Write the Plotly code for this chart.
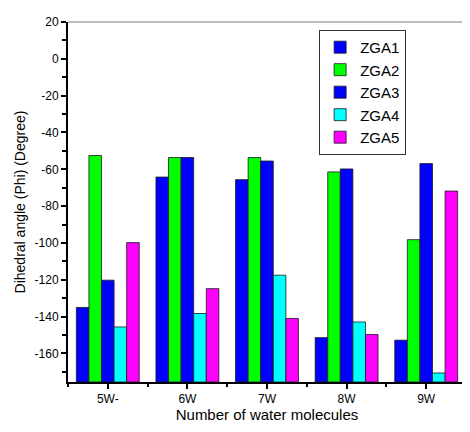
import plotly.graph_objects as go

categories = ["5W-", "6W", "7W", "8W", "9W"]
series_names = ["ZGA1", "ZGA2", "ZGA3", "ZGA4", "ZGA5"]
zga1 = [-135.0, -64.2, -65.6, -151.4, -152.8]
zga2 = [-52.5, -53.6, -53.6, -61.4, -98.2]
zga3 = [-120.2, -53.6, -55.5, -59.8, -56.9]
zga4 = [-145.6, -138.3, -117.5, -142.9, -170.6]
zga5 = [-99.8, -124.8, -141.0, -149.7, -71.8]
colors = ["#0000FF", "#00FF00", "#0000FF", "#00FFFF", "#FF00FF"]
y_tick_vals = [20, 0, -20, -40, -60, -80, -100, -120, -140, -160]
Y_MIN, Y_MAX = -175.5, 20

series = [zga1, zga2, zga3, zga4, zga5]
xpos = list(range(len(categories)))

fig = go.Figure()
for name, vals, col in zip(series_names, series, colors):
    fig.add_trace(go.Bar(
        x=xpos,
        y=[v - Y_MIN for v in vals],
        base=Y_MIN,
        name=name,
        marker=dict(color=col, line=dict(color="#1a1a1a", width=0.8)),
    ))

font = "Arial, Liberation Sans, sans-serif"
fig.update_layout(
    width=462, height=424,
    margin=dict(l=60, r=4, t=14, b=50),
    paper_bgcolor="white", plot_bgcolor="white",
    barmode="group", bargap=0.21, bargroupgap=0,
    font=dict(family=font, color="black", size=12),
    showlegend=True,
    legend=dict(
        x=0.631, y=0.978, xanchor="left", yanchor="top",
        bordercolor="#333333", borderwidth=1, bgcolor="white",
        font=dict(size=15, family=font, color="black"),
        itemwidth=30, tracegroupgap=0,
    ),
    xaxis=dict(
        range=[-0.5, len(categories) - 0.5],
        tickmode="array", tickvals=xpos, ticktext=categories,
        showline=True, linecolor="black", linewidth=2,
        ticks="outside", ticklen=5, tickwidth=2, tickcolor="black",
        minor=dict(tick0=0.5, dtick=1, ticks="outside", ticklen=3, tickwidth=2, tickcolor="black"),
        showgrid=False, zeroline=False, automargin=False,
        tickfont=dict(size=12),
        title=dict(text="Number of water molecules", font=dict(size=15), standoff=2),
    ),
    yaxis=dict(
        range=[Y_MIN, Y_MAX],
        tickmode="array", tickvals=y_tick_vals, ticktext=[str(v) for v in y_tick_vals],
        showline=True, linecolor="black", linewidth=2,
        ticks="outside", ticklen=5, tickwidth=2, tickcolor="black",
        minor=dict(dtick=10, tick0=0, ticks="outside", ticklen=4, tickwidth=2, tickcolor="black"),
        showgrid=False, zeroline=False, automargin=False,
        tickfont=dict(size=12),
        title=dict(text="Dihedral angle (Phi) (Degree)", font=dict(size=14), standoff=6),
    ),
    shapes=[
        dict(type="line", xref="paper", yref="paper", x0=0, x1=1, y0=1, y1=1,
             line=dict(color="#808080", width=1)),
        dict(type="line", xref="paper", yref="paper", x0=1, x1=1, y0=0, y1=1,
             line=dict(color="#808080", width=1)),
    ],
)

fig.write_html("out.html")
